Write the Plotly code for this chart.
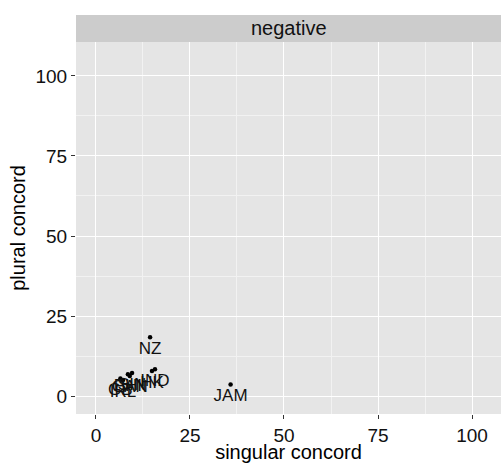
import plotly.graph_objects as go

varieties = ["GB", "IRL", "CAN", "PHI", "SIN", "HK", "IND", "NZ", "JAM"]
singular = [6.5, 7.2, 9.0, 8.5, 9.6, 14.9, 15.7, 14.4, 35.8]
plural = [5.5, 5.0, 6.3, 6.8, 7.2, 7.8, 8.4, 18.4, 3.6]
x_ticks = [0, 25, 50, 75, 100]
y_ticks = [0, 25, 50, 75, 100]
facet_label = "negative"

W, H = 501, 463
ml, mr, mt, mb = 76, 0, 42, 49
panel_h = H - mt - mb
FONT = "Liberation Sans, Arial"

fig = go.Figure()
fig.add_trace(go.Scatter(
    x=singular, y=plural, mode="markers+text", text=varieties,
    textposition="bottom center",
    textfont=dict(family=FONT, size=17, color="#111111"),
    marker=dict(color="black", size=4.5),
    cliponaxis=False, showlegend=False,
))

axis_common = dict(
    showgrid=True, gridcolor="white", gridwidth=1.1,
    minor=dict(showgrid=True, gridcolor="#f2f2f2", gridwidth=0.6),
    zeroline=False, ticks="outside", ticklen=4, tickcolor="#333333",
    tickfont=dict(family=FONT, size=19, color="#111111"),
    showline=False,
)

fig.update_layout(
    width=W, height=H,
    margin=dict(l=ml, r=mr, t=mt, b=mb),
    paper_bgcolor="white", plot_bgcolor="#e5e5e5",
    xaxis=dict(range=[-5.3, 107.7], tickvals=x_ticks,
               title=dict(text="singular concord", standoff=0,
                          font=dict(family=FONT, size=20, color="black")),
               **axis_common),
    yaxis=dict(range=[-5.6, 110.6], tickvals=y_ticks,
               title=dict(text="plural concord", standoff=4,
                          font=dict(family=FONT, size=20, color="black")),
               **axis_common),
)
fig.update_xaxes(minor=dict(tickvals=[12.5, 37.5, 62.5, 87.5]))
fig.update_yaxes(minor=dict(tickvals=[12.5, 37.5, 62.5, 87.5]))

fig.add_shape(type="rect", xref="paper", yref="paper", x0=0, x1=1.02,
              y0=1, y1=1 + 27 / panel_h, fillcolor="#cccccc", line=dict(width=0),
              layer="above")
fig.add_annotation(text=facet_label, xref="paper", yref="paper", x=0.5,
                   y=1 + 13.5 / panel_h, showarrow=False, yanchor="middle",
                   font=dict(family=FONT, size=20, color="#111111"))

fig.write_html("out.html")
